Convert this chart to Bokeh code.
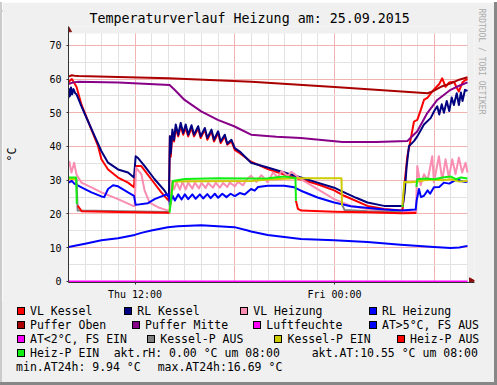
import math
from datetime import datetime, timedelta
from bokeh.plotting import figure
from bokeh.models import Range1d, FixedTicker, DatetimeTickFormatter, Title, Div
from bokeh.layouts import column, row
from bokeh.embed import file_html
from bokeh.resources import INLINE

START = datetime(2015, 9, 24, 8, 0)   # Thu 08:00, left edge of the 24 h window
SPAN_H = 24

# ---------------- data: (hours after Thu 08:00, value °C); None = gap ----------------
vl_kessel = [(0, 58.7), (0.1, 59.6), (0.2, 60.0), (0.3, 59.2), (0.48, 57.7), (0.78, 52.4), (1.1, 48.5),
             (1.38, 45), (1.78, 40.1), (1.98, 36.2), (2.38, 33.2), (2.98, 30.8), (3.58, 29.3), (3.94, 27.9),
             (4.02, 34.2), (4.38, 34.2), (4.98, 30.3), (5.58, 26.4), (6.04, 23.9), (6.1, 43), (6.15, 37),
             (6.25, 44), (6.35, 41.5), (6.45, 45.5), (6.6, 43), (6.75, 46), (6.9, 43.5), (7.05, 45.5),
             (7.2, 43), (7.4, 45.5), (7.55, 43), (7.8, 45.3), (7.95, 42.5), (8.2, 45), (8.35, 42),
             (8.6, 44.5), (8.75, 41.5), (9.0, 44), (9.15, 41), (9.4, 43), (9.55, 40.5), (9.8, 41.5),
             (10.0, 39), (10.3, 38), (10.98, 35.5), (11.98, 33.3), (12.98, 31.7), (13.98, 30.2),
             (14.98, 28.8), (15.98, 27), (16.58, 25.4), (17.98, 22.4), (18.98, 21.5), (19.98, 21),
             (20.1, 21.5), (20.22, 29.3), (20.38, 37.1), (20.58, 42.1), (20.78, 47.4), (20.98, 47.9),
             (21.2, 51), (21.38, 53.8), (21.6, 54.5), (21.88, 56.3), (22.1, 57.5), (22.3, 58.5),
             (22.48, 60.2), (22.68, 57.7), (22.9, 59), (23.18, 59.2), (23.35, 57.5), (23.48, 56.3),
             (23.7, 59), (23.88, 59.7), (24, 60)]

rl_kessel = [(0, 54.3), (0.05, 57), (0.1, 55), (0.15, 57.5), (0.22, 55.5), (0.3, 57), (0.4, 55.8),
             (0.48, 55.5), (0.78, 51.9), (1.18, 47.4), (1.58, 43), (1.98, 38.6), (2.38, 35.2),
             (2.98, 33.2), (3.58, 32.3), (3.94, 30.8), (4.04, 37.1), (4.2, 36.5), (4.58, 34.2),
             (5.18, 30.3), (5.78, 26.9), (6.04, 24.9), (6.1, 43), (6.15, 38), (6.25, 45), (6.35, 42),
             (6.45, 46.5), (6.6, 43.5), (6.75, 47), (6.9, 44), (7.05, 46.5), (7.2, 43.5), (7.4, 46.3),
             (7.55, 43.5), (7.8, 46), (7.95, 43), (8.2, 45.5), (8.35, 42.5), (8.6, 45), (8.75, 42),
             (9.0, 44.5), (9.15, 41.5), (9.4, 43.5), (9.55, 40.8), (9.8, 42), (10.0, 39.5),
             (10.3, 38.5), (10.98, 35.2), (11.98, 33.8), (12.98, 32.3), (13.98, 30.8), (14.98, 29.3),
             (15.98, 27.8), (16.58, 26.4), (17.3, 24.8), (17.98, 23.4), (18.98, 22.4), (19.98, 22.4),
             (20.1, 22.3), (20.22, 26.4), (20.34, 34.2), (20.48, 40.1), (20.78, 41.6), (20.98, 43),
             (21.38, 46.5), (21.78, 48.4), (22.0, 50.5), (22.18, 51.9), (22.3, 49.5), (22.45, 52.5),
             (22.58, 50), (22.75, 53.5), (22.9, 50.5), (23.05, 54.5), (23.18, 52.3), (23.35, 55.8),
             (23.48, 52.3), (23.6, 56), (23.7, 53.5), (23.85, 56.8), (24, 56.5)]

vl_heizung = [(0.04, 35.7), (0.18, 32.3), (0.34, 35.2), (0.48, 31.7), (0.78, 29.3), (1.38, 27.9),
              (1.98, 26.4), (2.98, 24.4), (3.88, 22.4), (3.98, 22.4), (4.06, 33.7), (4.38, 31.8),
              (4.58, 26.9), (4.88, 23.4), (5.38, 22), (5.98, 21), (6.08, 21), (6.2, 29.5), (6.35, 27.3),
              (6.5, 29.4), (6.7, 27.2), (6.85, 29.5), (7.05, 27.3), (7.2, 29.3), (7.45, 27.5),
              (7.6, 29.3), (7.85, 27.6), (8.0, 29.2), (8.25, 27.7), (8.4, 29.2), (8.7, 27.8),
              (8.85, 29.3), (9.1, 27.8), (9.3, 29.2), (9.55, 28), (9.7, 29.3), (10.0, 28.2),
              (10.2, 29.5), (10.5, 28.5), (10.7, 30.2), (10.98, 31.3), (11.3, 29.5), (11.6, 31.5),
              (11.98, 29.4), (12.3, 32.3), (12.6, 30.8), (12.8, 32.7), (13.2, 31.3), (13.4, 32.5),
              (13.6, 31.8), (13.98, 30.3), (14.98, 27.4), (15.98, 24.4), (16.98, 22.4), (17.98, 21.5),
              (18.98, 21), (19.98, 20.7), (20.9, 20.6), (20.98, 34.2), (21.18, 28.5), (21.38, 31.8),
              (21.6, 30), (21.88, 37.1), (21.98, 29.4), (22.28, 37.1), (22.48, 30), (22.68, 36.2),
              (22.88, 30.8), (23.08, 36.2), (23.28, 31.8), (23.48, 36.7), (23.68, 32.3), (23.88, 35.2),
              (24, 32.3)]

rl_heizung = [(0, 29.3), (0.2, 29.8), (0.35, 29.0), (0.78, 27.9), (1.38, 26.4), (1.98, 25.2), (2.15, 25),
              (2.38, 27.4), (2.68, 28.5), (2.98, 28.2), (3.58, 26.4), (3.94, 25.4), (4.04, 22.7),
              (4.78, 23.2), (5.18, 24.4), (5.78, 25.6), (6.04, 25.8), (6.1, 22.4), (6.25, 25.5),
              (6.4, 24), (6.6, 25.8), (6.8, 24.3), (7.0, 25.8), (7.2, 24.4), (7.45, 25.8), (7.65, 24.5),
              (7.9, 25.8), (8.1, 24.6), (8.35, 25.9), (8.55, 24.7), (8.8, 26), (9.0, 24.8), (9.25, 26),
              (9.5, 25), (9.75, 26), (10.0, 25.3), (10.3, 26.2), (10.6, 25.8), (10.98, 27.4),
              (11.2, 26.9), (11.4, 28), (11.98, 28.4), (12.98, 28.4), (13.58, 27.9), (13.98, 26.9),
              (14.98, 24.9), (15.98, 23.4), (16.98, 22.3), (18.98, 21.3), (19.98, 21), (20.88, 21.3),
              (20.94, 24), (21.08, 27.4), (21.2, 25), (21.38, 25.4), (21.6, 27), (21.75, 26),
              (21.98, 27.9), (22.3, 28), (22.58, 29.3), (22.9, 29), (23.38, 30.3), (23.6, 29.8),
              (23.88, 29.5), (24, 29.6)]

puffer_oben = [(0, 60.7), (0.2, 61.1), (0.35, 61.0), (0.6, 60.9), (3, 60.6), (6, 60.2), (11, 59.2),
               (16, 57.6), (21.6, 55.8), (21.9, 56.3), (22.4, 57.7), (23, 58.7), (23.5, 59.8), (24, 60.5)]

puffer_mitte = [(0, 58.5), (0.3, 59.0), (0.6, 59.2), (3, 59.0), (6.08, 58.2), (6.38, 56.8), (6.98, 53.8),
                (7.98, 50.4), (8.98, 47.9), (9.96, 46), (10.98, 43.5), (12.5, 42.9), (13.98, 42.5),
                (16.48, 41.3), (18.5, 41.3), (20.38, 41.6), (20.58, 42.6), (20.98, 44.5), (21.58, 49.9),
                (22.18, 53.8), (22.98, 56.8), (23.5, 58), (24, 59)]

luftfeuchte = [(0, 0), (6, 0), (12, 0), (18, 0), (24, 0)]

aussen_temp = [(0, 10.2), (1, 11.2), (1.98, 12.2), (2.98, 12.8), (3.98, 13.8), (4.38, 14.4), (4.98, 15.1),
               (5.98, 16.1), (6.58, 16.4), (7.98, 16.69), (8.98, 16.4), (9.98, 16.1), (10.78, 15.1),
               (10.98, 14.8), (11.98, 13.8), (13.98, 12.6), (15.98, 12.2), (17.98, 11.7), (19.98, 10.9),
               (21.98, 10.2), (22.98, 9.94), (23.5, 10.1), (24, 10.55)]

kessel_p_aus = [(0.48, 30.4), (0.55, 21), (6.05, 20.6), None,
                (16.48, 22.5), (16.6, 21.2), (18, 20.8), (20.05, 20.5)]
kessel_p_ein = [(0, 30.4), (0.48, 30.4), None,
                (6.08, 21), (6.3, 29.6), (8, 29.7), (10.98, 29.8), (12, 30.2), (13.6, 30.6), (16.42, 30.6),
                (16.45, 22.5), None,
                (20.08, 22), (20.2, 29.5), (20.6, 29.4), (21, 29.6), (21.5, 30.1), (22, 30.2), (22.5, 30),
                (23, 30.3), (23.5, 29.6), (24, 29.8)]
heiz_p_aus = [(0.55, 22.5), (0.8, 20.8), (3, 20.6), (6.0, 20.4), (6.08, 20.4), None,
              (13.68, 23.9), (13.8, 21.5), (14.0, 21), (16, 20.7), (18, 20.5), (20, 20.2), (20.9, 20.3),
              (20.92, 20.3)]
heiz_p_ein = [(0, 30.8), (0.2, 30.8), (0.46, 30.8), (0.5, 23), None,
              (6.08, 20.4), (6.28, 29.8), (7, 30.4), (9, 30.6), (10.98, 30.5), (12, 30.6), (12.98, 31.1),
              (13.6, 30.7), (13.65, 30.7), (13.68, 23.9), None,
              (20.08, 22.2), (20.12, 22.6), None,
              (20.92, 28), (20.98, 30.3), (21.5, 30.5), (22, 30.3), (22.5, 30.8), (23, 31.1), (23.3, 30.3),
              (23.6, 30.8), (24, 30.5)]

# axis / grid positions (hours after Thu 08:00)
x_label_hours = [4, 16]                       # Thu 12:00, Fri 00:00
x_major_grid_hours = [4, 10, 16, 22]
x_minor_grid_hours = list(range(0, 25))
y_ticks = [0, 10, 20, 30, 40, 50, 60, 70]
y_minor = [5, 15, 25, 35, 45, 55, 65]
Y_TOP = 73.5                                  # top of the grid area

title_text = "Temperaturverlauf Heizung am: 25.09.2015"
unit_text = "°C"
watermark_text = "RRDTOOL / TOBI OETIKER"

legend_labels = ["VL Kessel", "RL Kessel", "VL Heizung", "RL Heizung",
                 "Puffer Oben", "Puffer Mitte", "Luftfeuchte", "AT>5°C, FS AUS",
                 "AT<2°C, FS EIN", "Kessel-P AUS", "Kessel-P EIN", "Heiz-P AUS",
                 "Heiz-P EIN"]
legend_colors = ["#ff0000", "#000080", "#f98db2", "#0000ff",
                 "#aa0000", "#880088", "#ff00ff", "#0000ff",
                 "#ff00ff", "#808080", "#cccc00", "#ff0000",
                 "#11ee11"]
info_texts = ["akt.rH: 0.00 °C um 08:00", "akt.AT:10.55 °C um 08:00",
              "min.AT24h: 9.94 °C", "max.AT24h:16.69 °C"]

# ---------------- helpers ----------------
def t(h):
    return START + timedelta(hours=h)


EPOCH = datetime(1970, 1, 1)


def ms(h):
    return (t(h) - EPOCH).total_seconds() * 1000.0


def xy(points):
    xs, ys = [], []
    for pt in points:
        if pt is None:
            xs.append(xs[-1])
            ys.append(float("nan"))
        else:
            xs.append(t(pt[0]))
            ys.append(pt[1])
    return xs, ys


MONO = "DejaVu Sans Mono"
BG = "#f0f0f0"
LIGHT_EDGE = "#cbcbcb"
DARK_EDGE = "#878787"
ARROW = "#8c1010"
PX_PER_H = 400 / 24.0
PX_PER_C = 3.401
X_EXT = 7 / PX_PER_H          # room for the axis arrows
Y_EXT = 7 / PX_PER_C

W, H = 497, 385
LEFT_EDGE, TOP_EDGE, RIGHT_EDGE, BOTTOM_EDGE = 2, 2, 3, 3
MAIN_H = 302                  # image rows 0..302 hold title + chart + time axis

# ---------------- main chart ----------------
p = figure(width=W - LEFT_EDGE - RIGHT_EDGE, height=MAIN_H - TOP_EDGE, x_axis_type="datetime",
           x_range=Range1d(t(0), t(SPAN_H + X_EXT)), y_range=Range1d(-0.3, Y_TOP + Y_EXT),
           output_backend="svg", toolbar_location=None,
           min_border_left=67 - LEFT_EDGE, min_border_right=(W - RIGHT_EDGE) - 474,
           min_border_top=26 - TOP_EDGE, min_border_bottom=MAIN_H - 284)
p.background_fill_color = "white"
p.border_fill_color = BG
p.outline_line_color = None

p.title.text = title_text
p.title.align = "left"
p.title.offset = 21
p.title.standoff = 2
p.title.text_font = MONO
p.title.text_font_size = "13.3px"
p.title.text_font_style = "normal"
p.title.text_color = "#000000"

p.add_layout(Title(text=watermark_text, align="left", offset=-18, standoff=4,
                   text_font=MONO, text_font_size="8px", text_font_style="normal",
                   text_color="#aaaaaa"), "right")

# grids
p.xgrid.ticker = FixedTicker(ticks=[ms(h) for h in x_major_grid_hours],
                             minor_ticks=[ms(h) for h in x_minor_grid_hours])
p.ygrid.ticker = FixedTicker(ticks=y_ticks, minor_ticks=y_minor)
for g in (p.xgrid, p.ygrid):
    g.grid_line_color = "#f2b3b3"
    g.grid_line_width = 1
    g.minor_grid_line_color = "#e2e2e2"
    g.minor_grid_line_width = 1

# axes
p.xaxis.ticker = FixedTicker(ticks=[ms(h) for h in x_label_hours])
p.xaxis.formatter = DatetimeTickFormatter(hours="%a %H:%M", hourmin="%a %H:%M", days="%a %H:%M",
                                          minutes="%a %H:%M", minsec="%a %H:%M")
p.yaxis.ticker = FixedTicker(ticks=y_ticks)
for ax in (p.xaxis, p.yaxis):
    ax.axis_line_color = "#333333"
    ax.major_tick_line_color = "#333333"
    ax.major_tick_out = 2
    ax.major_tick_in = 0
    ax.minor_tick_out = 0
    ax.minor_tick_in = 0
    ax.major_label_text_font = MONO
    ax.major_label_text_font_size = "10px"
    ax.major_label_text_color = "#000000"
p.xaxis.major_label_standoff = 4
p.yaxis.major_label_standoff = 5
p.yaxis.axis_label = unit_text
p.yaxis.axis_label_text_font = MONO
p.yaxis.axis_label_text_font_size = "11.5px"
p.yaxis.axis_label_text_font_style = "normal"
p.yaxis.axis_label_text_color = "#000000"
p.yaxis.axis_label_standoff = 27

# gray margins outside the grid area (where only the axis arrows live)
p.quad(left=[t(0), t(SPAN_H)], right=[t(SPAN_H + 2 * X_EXT), t(SPAN_H + 2 * X_EXT)],
       bottom=[Y_TOP, -1], top=[Y_TOP + 2 * Y_EXT, Y_TOP + 2 * Y_EXT],
       fill_color=BG, line_color=None)

# series, in rrdtool drawing order
series = [(vl_kessel, 0), (rl_kessel, 1), (vl_heizung, 2), (rl_heizung, 3),
          (puffer_oben, 4), (puffer_mitte, 5), (luftfeuchte, 6), (aussen_temp, 7),
          (kessel_p_aus, 9), (kessel_p_ein, 10), (heiz_p_aus, 11), (heiz_p_ein, 12)]
for pts, ci in series:
    xs, ys = xy(pts)
    p.line(xs, ys, line_color=legend_colors[ci], line_width=2, line_join="round")

# axis arrow heads
p.scatter(x=[t(0)], y=[Y_TOP + 3.5 / PX_PER_C], marker="triangle", size=6,
          fill_color=ARROW, line_color=ARROW)
p.scatter(x=[t(SPAN_H + 3.8 / PX_PER_H)], y=[0.2], marker="triangle", angle=-math.pi / 2, size=6,
          fill_color=ARROW, line_color=ARROW)


def strip(w, h, color):
    return Div(text='<div style="width:%dpx;height:%dpx;background:%s;"></div>' % (w, h, color),
               width=w, height=h, margin=0)


# ---------------- legend block (HTML, positions in px of the original image) ----------------
row_base = [315, 329, 343, 357, 371]
item_x = [30.7, 138, 254, 382.7,
          30.7, 145.7, 267, 382.7,
          30.7, 161, 288.3, 410.7,
          30.7]
item_row = [0, 0, 0, 0, 1, 1, 1, 1, 2, 2, 2, 2, 3]
info_x = [114.3, 312.3, 16.7, 158.3]
info_row = [3, 3, 4, 4]

OX, OY = 0, MAIN_H        # origin of the legend block in image pixels
LEG_H = H - MAIN_H
spans = []
txt_style = ("position:absolute;white-space:pre;margin:0;padding:0;line-height:14px;height:14px;"
             "font-family:'DejaVu Sans Mono';font-size:11.5px;color:#000;")
for lbl, col, x, r in zip(legend_labels, legend_colors, item_x, item_row):
    spans.append('<span style="position:absolute;box-sizing:border-box;width:8px;height:8px;'
                 'left:%.1fpx;top:%.1fpx;background:%s;border:1px solid #000;"></span>'
                 % (x - 14 - OX, row_base[r] - 8 - OY, col))
    spans.append('<span style="%sleft:%.1fpx;top:%.1fpx;">%s</span>'
                 % (txt_style, x - 0.7 - OX, row_base[r] - 10.98 - OY,
                    lbl.replace("<", "&lt;").replace(">", "&gt;")))
for txt, x, r in zip(info_texts, info_x, info_row):
    spans.append('<span style="%sleft:%.1fpx;top:%.1fpx;">%s</span>'
                 % (txt_style, x - 0.6 - OX, row_base[r] - 10.98 - OY, txt))
# outer frame edges of the image
spans.append('<span style="position:absolute;left:0;top:0;width:%dpx;height:%dpx;background:%s;"></span>'
             % (LEFT_EDGE, LEG_H, LIGHT_EDGE))
spans.append('<span style="position:absolute;left:0;top:%dpx;width:%dpx;height:%dpx;background:%s;"></span>'
             % (LEG_H - BOTTOM_EDGE, W, BOTTOM_EDGE, DARK_EDGE))
spans.append('<span style="position:absolute;left:%dpx;top:0;width:%dpx;height:%dpx;background:%s;"></span>'
             % (W - RIGHT_EDGE, RIGHT_EDGE, LEG_H, DARK_EDGE))

html = ('<div style="position:relative;width:%dpx;height:%dpx;overflow:hidden;background:%s;">%s</div>'
        % (W, LEG_H, BG, "".join(spans)))
legend_div = Div(text=html, width=W, height=LEG_H, margin=0)

middle = row(strip(LEFT_EDGE, MAIN_H - TOP_EDGE, LIGHT_EDGE), p,
             strip(RIGHT_EDGE, MAIN_H - TOP_EDGE, DARK_EDGE), spacing=0)
layout = column(strip(W, TOP_EDGE, LIGHT_EDGE), middle, legend_div, spacing=0)
open("out.html", "w").write(file_html(layout, INLINE))
